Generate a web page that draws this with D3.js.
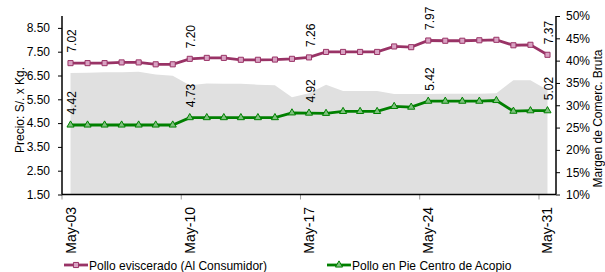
<!DOCTYPE html>
<html><head><meta charset="utf-8">
<script src="https://cdn.jsdelivr.net/npm/d3@7/dist/d3.min.js"></script>
<style>
body{margin:0;background:#fff;}
svg text{font-family:"Liberation Sans",Arial,sans-serif;fill:#000;}
</style></head>
<body><svg id="c" width="605" height="272"></svg>
<script>
const days = ["May-03","May-04","May-05","May-06","May-07","May-08","May-09","May-10","May-11","May-12","May-13","May-14","May-15","May-16","May-17","May-18","May-19","May-20","May-21","May-22","May-23","May-24","May-25","May-26","May-27","May-28","May-29","May-30","May-31"];
const tickDays = ["May-03","May-10","May-17","May-24","May-31"];
const consumidor = [7.02,7.02,7.02,7.05,7.05,6.97,6.97,7.20,7.24,7.24,7.16,7.16,7.17,7.20,7.26,7.49,7.49,7.49,7.49,7.72,7.69,7.97,7.96,7.96,7.98,8.00,7.77,7.79,7.37];
const acopio = [4.42,4.42,4.42,4.42,4.42,4.42,4.42,4.73,4.73,4.73,4.73,4.73,4.73,4.93,4.92,4.91,4.99,4.99,4.99,5.20,5.17,5.42,5.42,5.42,5.42,5.45,5.00,5.02,5.02];
const margen = [0.372,0.373,0.374,0.374,0.375,0.369,0.366,0.345,0.349,0.348,0.348,0.346,0.345,0.318,0.327,0.346,0.332,0.332,0.332,0.325,0.325,0.325,0.326,0.326,0.326,0.327,0.356,0.356,0.334];
const leftTicks = [1.5,2.5,3.5,4.5,5.5,6.5,7.5,8.5];
const rightTicks = [0.10,0.15,0.20,0.25,0.30,0.35,0.40,0.45,0.50];
const labelIdx = [0,7,14,21,28];
const seriesNames = ["Pollo eviscerado (Al Consumidor)","Pollo en Pie Centro de Acopio"];

const L=62, R=556, T=16, B=194.5;
const svg = d3.select("#c");
const x = d3.scaleBand().domain(days).range([L,R]).padding(0);
const cx = d => x(d) + x.bandwidth()/2;
const y = d3.scaleLinear().domain([1.5,9.0]).range([B,T]);
const y2 = d3.scaleLinear().domain([0.10,0.50]).range([B,T]);

// area
const area = d3.area().x((d,i)=>cx(days[i])).y0(B).y1(d=>y2(d));
svg.append("path").datum(margen).attr("d",area).attr("fill","#e0e0e0");

// x ticks
svg.selectAll(".xt").data(tickDays).enter().append("line")
  .attr("x1",d=>x(d)).attr("x2",d=>x(d)).attr("y1",B).attr("y2",B+5)
  .attr("stroke","#999").attr("stroke-width",1);
svg.selectAll(".xl").data(tickDays).enter().append("text")
  .attr("transform",d=>`translate(${cx(d)+5},207) rotate(-90)`)
  .attr("text-anchor","end").attr("font-size",14).text(d=>d);

// axes
const yAxis = d3.axisLeft(y).tickValues(leftTicks).tickFormat(d3.format(".2f")).tickSize(4).tickSizeOuter(0);
const gy = svg.append("g").attr("transform",`translate(${L},0)`).call(yAxis);
gy.select(".domain").remove();
gy.selectAll("text").attr("font-size",12).attr("x",-12).style("font-family","Liberation Sans, Arial");
gy.selectAll("line").attr("stroke","#000");
const yAxis2 = d3.axisRight(y2).tickValues(rightTicks).tickFormat(d3.format(".0%")).tickSize(4).tickSizeOuter(0);
const gy2 = svg.append("g").attr("transform",`translate(${R},0)`).call(yAxis2);
gy2.select(".domain").remove();
gy2.selectAll("text").attr("font-size",12).attr("x",10).style("font-family","Liberation Sans, Arial");
gy2.selectAll("line").attr("stroke","#000");

svg.append("line").attr("x1",L).attr("x2",L).attr("y1",T).attr("y2",B).attr("stroke","#000").attr("stroke-width",1.5);
svg.append("line").attr("x1",R).attr("x2",R).attr("y1",T).attr("y2",B).attr("stroke","#000").attr("stroke-width",1.5);
svg.append("line").attr("x1",L).attr("x2",R).attr("y1",B).attr("y2",B).attr("stroke","#000").attr("stroke-width",1.5);

// titles
svg.append("text").attr("transform","translate(24,110) rotate(-90)").attr("text-anchor","middle").attr("font-size",12).text("Precio: S/. x Kg.");
svg.append("text").attr("transform","translate(602,118.5) rotate(-90)").attr("text-anchor","middle").attr("font-size",12).text("Margen de Comerc. Bruta");

// lines
const line = d3.line().x((d,i)=>cx(days[i])).y(d=>y(d));
const mag="#993366", grn="#008000";
svg.append("path").datum(consumidor).attr("d",line).attr("fill","none").attr("stroke",mag).attr("stroke-width",2.8);
svg.append("path").datum(acopio).attr("d",line).attr("fill","none").attr("stroke",grn).attr("stroke-width",2.8);

const sq = d3.symbol().type(d3.symbolSquare).size(26);
const tri = d3.symbol().type(d3.symbolTriangle).size(22);
svg.selectAll(".m1").data(consumidor).enter().append("path").attr("d",sq)
  .attr("transform",(d,i)=>`translate(${cx(days[i])},${y(d)})`)
  .attr("fill","#d9a3c3").attr("stroke",mag).attr("stroke-width",1);
svg.selectAll(".m2").data(acopio).enter().append("path").attr("d",tri)
  .attr("transform",(d,i)=>`translate(${cx(days[i])},${y(d)})`)
  .attr("fill","#7fc07f").attr("stroke",grn).attr("stroke-width",1);

// data labels
function labels(arr){
  svg.selectAll(null).data(labelIdx).enter().append("text")
    .attr("transform",i=>`translate(${cx(days[i])+5.5},${y(arr[i])-10.5}) rotate(-90)`)
    .attr("font-size",12).text(i=>arr[i].toFixed(2));
}
labels(consumidor); labels(acopio);

// legend
const lg = [{name:seriesNames[0],c:mag,x0:64,sym:sq,f:"#d9a3c3"},{name:seriesNames[1],c:grn,x0:327,sym:tri,f:"#7fc07f"}];
lg.forEach(o=>{
  svg.append("line").attr("x1",o.x0).attr("x2",o.x0+24).attr("y1",265).attr("y2",265).attr("stroke",o.c).attr("stroke-width",2.8);
  svg.append("path").attr("d",o.sym).attr("transform",`translate(${o.x0+12},265)`).attr("fill",o.f).attr("stroke",o.c);
  svg.append("text").attr("x",o.x0+25).attr("y",269.5).attr("font-size",12).text(o.name);
});
</script></body></html>
